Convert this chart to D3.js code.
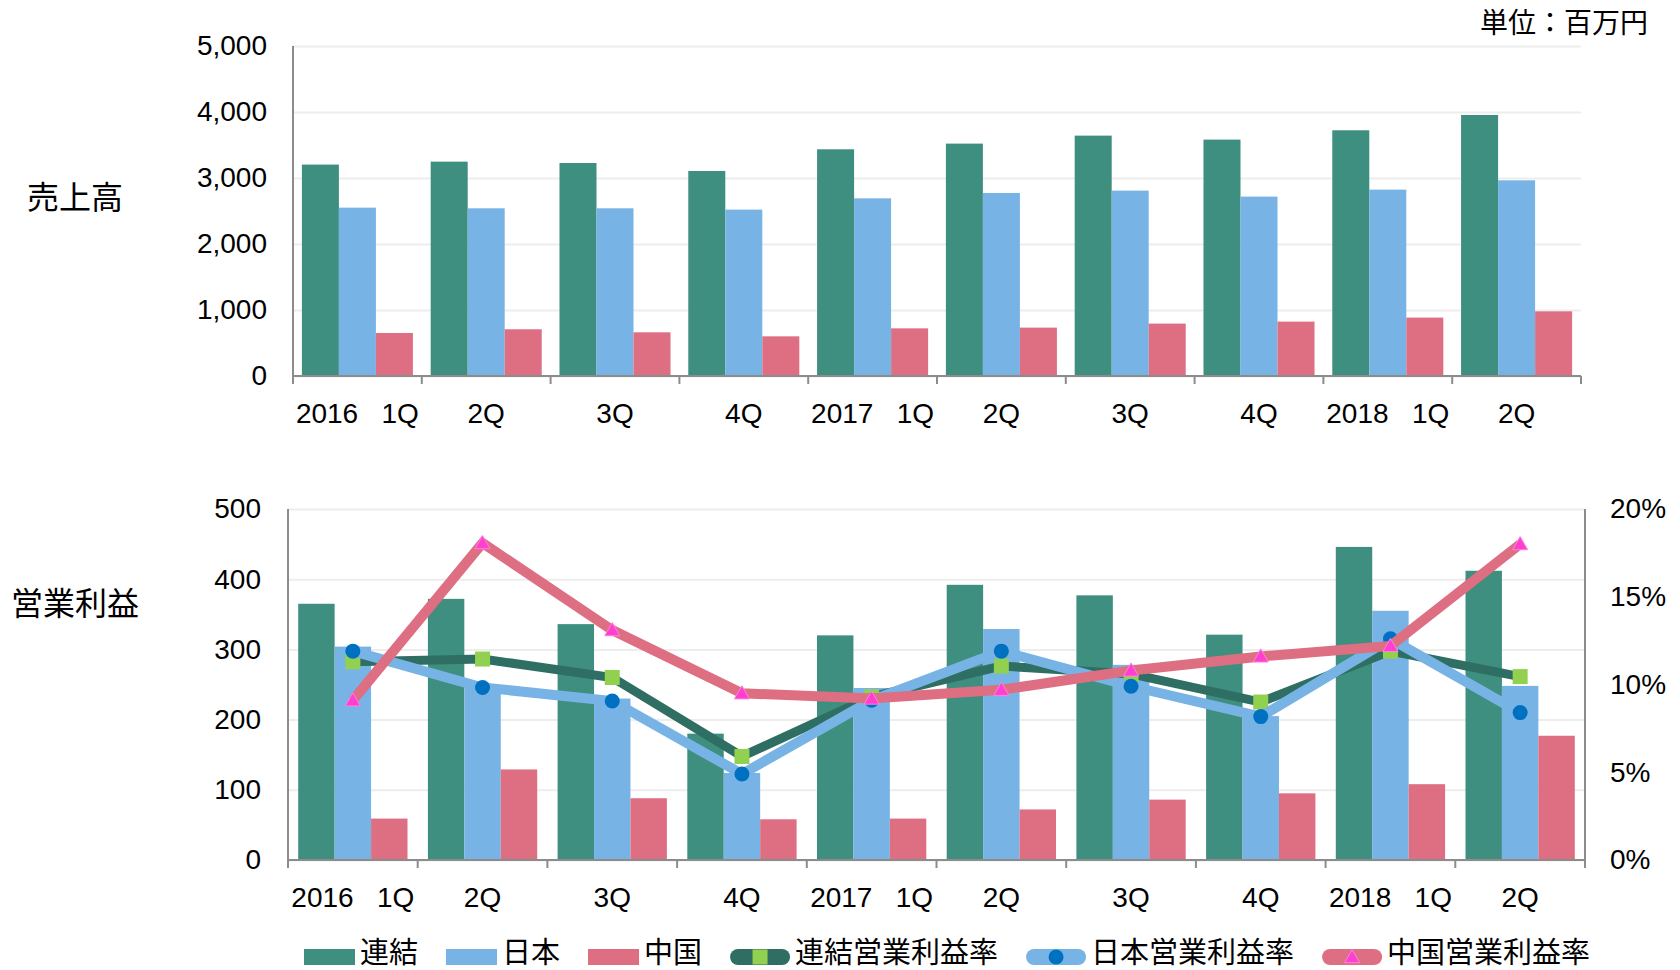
<!DOCTYPE html>
<html>
<head>
<meta charset="utf-8">
<script src="https://cdn.jsdelivr.net/npm/d3@7"></script>
<style>
    body { margin: 0; background: #fff; }
    svg text { font-family: "Liberation Sans", Arial, "Noto Sans CJK JP", sans-serif; fill: #000; }
    svg text.cjk { font-family: "Noto Sans CJK JP", sans-serif; }
</style>
</head>
<body>
<div id="chart"></div>
<script>
// 四半期ラベル
const quarterLabels = ['2016   1Q', '2Q', '3Q', '4Q', '2017   1Q', '2Q', '3Q', '4Q', '2018   1Q', '2Q'];
const barNames = ['連結', '日本', '中国'];
const rateNames = ['連結営業利益率', '日本営業利益率', '中国営業利益率'];

// 売上高 (百万円)
const salesConsolidated = [3203, 3248, 3227, 3106, 3435, 3521, 3642, 3582, 3723, 3955];
const salesJapan = [2551, 2541, 2541, 2521, 2692, 2773, 2809, 2718, 2824, 2965];
const salesChina = [652, 708, 662, 601, 722, 733, 794, 824, 885, 980];

// 営業利益 (百万円)
const profitConsolidated = [365, 372, 336, 180, 320, 392, 377, 321, 446, 412];
const profitJapan = [304, 246, 230, 124, 245, 329, 278, 205, 355, 248];
const profitChina = [59, 129, 88, 58, 59, 72, 86, 95, 108, 177];

// 営業利益率 (%)
const marginConsolidated = [11.3, 11.45, 10.4, 5.9, 9.3, 11.05, 10.6, 9.0, 11.9, 10.45];
const marginJapan = [11.9, 9.83, 9.06, 4.9, 9.1, 11.9, 9.9, 8.17, 12.6, 8.4];
const marginChina = [9.1, 18.06, 13.1, 9.5, 9.2, 9.7, 10.8, 11.6, 12.2, 18.0];

const salesTicks = [0, 1000, 2000, 3000, 4000, 5000];
const profitTicks = [0, 100, 200, 300, 400, 500];
const rateTicks = [0, 0.05, 0.10, 0.15, 0.20];

const barColors = ['#3e8f7f', '#78b3e6', '#de6f82'];
const lineColors = ['#2f6e62', '#78b3e6', '#de6f82'];
const markerColors = ['#92d050', '#0070c0', '#ff3fcf'];
const markerShapes = ['square', 'circle', 'triangle'];

const svg = d3.select('#chart').append('svg')
    .attr('width', 1680)
    .attr('height', 970);

// 棒グラフ部分（共通）
function drawPanel(opt) {
    const idx = d3.range(quarterLabels.length);
    const xScale = d3.scaleBand()
        .domain(idx)
        .range([opt.left, opt.right]);
    const xSub = d3.scaleBand()
        .domain(d3.range(3))
        .range([0, xScale.bandwidth()])
        .paddingOuter(opt.pad);
    const yScale = d3.scaleLinear()
        .domain([0, opt.max])
        .range([opt.bottom, opt.top]);

    const g = svg.append('g');

    // 目盛線とラベル
    const yAxis = d3.axisLeft(yScale)
        .tickValues(opt.ticks)
        .tickFormat(d3.format(','))
        .tickSize(-(opt.right - opt.left))
        .tickPadding(opt.labelGap);
    const yAxisG = g.append('g')
        .attr('transform', `translate(${opt.left},0)`)
        .call(yAxis);
    yAxisG.select('.domain').remove();
    yAxisG.selectAll('.tick line')
        .attr('stroke', '#ededed')
        .attr('stroke-width', 2);
    yAxisG.selectAll('.tick text')
        .attr('font-size', 28);

    // 棒
    opt.series.forEach((values, s) => {
        g.append('g').selectAll('rect')
            .data(values)
            .join('rect')
            .attr('x', (d, i) => xScale(i) + xSub(s))
            .attr('y', d => yScale(d))
            .attr('width', xSub.bandwidth())
            .attr('height', d => opt.bottom - yScale(d))
            .attr('fill', barColors[s]);
    });

    // 軸線
    g.append('line')
        .attr('x1', opt.left).attr('x2', opt.left)
        .attr('y1', opt.top).attr('y2', opt.bottom + 8)
        .attr('stroke', '#8c8c8c').attr('stroke-width', 2);
    g.append('line')
        .attr('x1', opt.left).attr('x2', opt.right)
        .attr('y1', opt.bottom).attr('y2', opt.bottom)
        .attr('stroke', '#8c8c8c').attr('stroke-width', 2);
    g.append('g').selectAll('line')
        .data(idx.concat([idx.length]))
        .join('line')
        .attr('x1', i => i < idx.length ? xScale(i) : opt.right)
        .attr('x2', i => i < idx.length ? xScale(i) : opt.right)
        .attr('y1', opt.bottom)
        .attr('y2', opt.bottom + 8)
        .attr('stroke', '#8c8c8c').attr('stroke-width', 2);

    // 四半期ラベル
    g.append('g').selectAll('text')
        .data(quarterLabels)
        .join('text')
        .attr('x', (d, i) => xScale(i) + xScale.bandwidth() / 2)
        .attr('y', opt.bottom + 47)
        .attr('text-anchor', 'middle')
        .attr('font-size', 28)
        .style('white-space', 'pre')
        .text(d => d);

    // 左側の見出し
    g.append('text')
        .attr('class', 'cjk')
        .attr('x', 75)
        .attr('y', opt.titleY)
        .attr('text-anchor', 'middle')
        .attr('font-size', 32)
        .text(opt.title);

    return { xScale, yScale, g };
}

function drawMarker(sel, shape, color, size) {
    const h = size / 2;
    if (shape === 'square') {
        sel.append('rect')
            .attr('x', -h).attr('y', -h)
            .attr('width', size).attr('height', size)
            .attr('fill', color);
    } else if (shape === 'circle') {
        sel.append('circle')
            .attr('r', h)
            .attr('fill', color);
    } else {
        sel.append('path')
            .attr('d', `M0,${-h}L${h},${h * 0.75}L${-h},${h * 0.75}Z`)
            .attr('fill', color)
            .attr('stroke', '#ff80e0')
            .attr('stroke-width', 1);
    }
}

// 売上高
drawPanel({
    left: 293, right: 1581, top: 46, bottom: 376,
    max: 5000, ticks: salesTicks, labelGap: 26, pad: 0.24,
    series: [salesConsolidated, salesJapan, salesChina],
    title: '売上高', titleY: 209
});

// 営業利益
const profit = drawPanel({
    left: 288, right: 1585, top: 509, bottom: 860,
    max: 500, ticks: profitTicks, labelGap: 27, pad: 0.28,
    series: [profitConsolidated, profitJapan, profitChina],
    title: '営業利益', titleY: 615
});

// 右軸（営業利益率）
const yRate = d3.scaleLinear()
    .domain([0, 0.2])
    .range([860, 509]);
const rateAxis = d3.axisRight(yRate)
    .tickValues(rateTicks)
    .tickFormat(d3.format('.0%'))
    .tickSize(0)
    .tickPadding(25);
const rateAxisG = profit.g.append('g')
    .attr('transform', 'translate(1585,0)')
    .call(rateAxis);
rateAxisG.select('.domain').remove();
rateAxisG.selectAll('text').attr('font-size', 28);
profit.g.append('line')
    .attr('x1', 1585).attr('x2', 1585)
    .attr('y1', 509).attr('y2', 868)
    .attr('stroke', '#8c8c8c').attr('stroke-width', 2);

// 折れ線
const xCenter = i => profit.xScale(i) + profit.xScale.bandwidth() / 2;
const lineGenerator = d3.line()
    .x((d, i) => xCenter(i))
    .y(d => yRate(d / 100));

[marginConsolidated, marginJapan, marginChina].forEach((values, s) => {
    profit.g.append('path')
        .attr('d', lineGenerator(values))
        .attr('fill', 'none')
        .attr('stroke', lineColors[s])
        .attr('stroke-width', s === 0 ? 9 : 10)
        .attr('stroke-linejoin', 'miter');
    profit.g.append('g').selectAll('g')
        .data(values)
        .join('g')
        .attr('transform', (d, i) => `translate(${xCenter(i)},${yRate(d / 100)})`)
        .each(function () { drawMarker(d3.select(this), markerShapes[s], markerColors[s], 15); });
});

// 単位
svg.append('text')
    .attr('class', 'cjk')
    .attr('x', 1648)
    .attr('y', 33)
    .attr('text-anchor', 'end')
    .attr('font-size', 28)
    .text('単位：百万円');

// 凡例
const legend = svg.append('g');
let lx = 304;
const legendItems = barNames.map((n, i) => ({ name: n, type: 'bar', i }))
    .concat(rateNames.map((n, i) => ({ name: n, type: 'line', i })));
legendItems.forEach(item => {
    if (item.type === 'bar') {
        legend.append('rect')
            .attr('x', lx).attr('y', 949)
            .attr('width', 51).attr('height', 16)
            .attr('fill', barColors[item.i]);
        lx += 51;
    } else {
        legend.append('line')
            .attr('x1', lx + 8).attr('x2', lx + 52)
            .attr('y1', 957).attr('y2', 957)
            .attr('stroke', lineColors[item.i])
            .attr('stroke-width', 16)
            .attr('stroke-linecap', 'round');
        const m = legend.append('g').attr('transform', `translate(${lx + 30},957)`);
        drawMarker(m, markerShapes[item.i], markerColors[item.i], 15);
        lx += 60;
    }
    lx += 5;
    const t = legend.append('text')
        .attr('class', 'cjk')
        .attr('x', lx)
        .attr('y', 963)
        .attr('font-size', 29)
        .text(item.name);
    lx += t.node().getComputedTextLength() + 28;
});
</script>
</body>
</html>
